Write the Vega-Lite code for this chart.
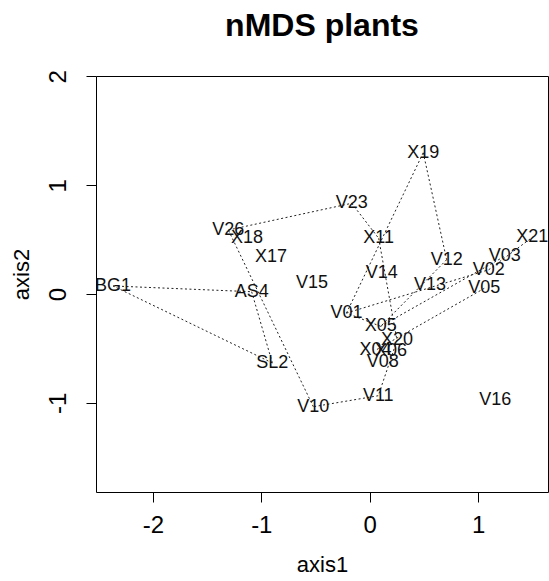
{
  "$schema": "https://vega.github.io/schema/vega-lite/v6.json",
  "autosize": {"type": "none"},
  "width": 452,
  "height": 416,
  "padding": {"left": 96, "top": 76, "right": 1, "bottom": 89},
  "background": "white",
  "title": {
    "text": "nMDS plants",
    "font": "Liberation Sans",
    "fontSize": 32,
    "fontWeight": "bold",
    "color": "#000",
    "anchor": "middle",
    "frame": "group",
    "offset": 27
  },
  "config": {
    "font": "Liberation Sans",
    "view": {"stroke": "#000", "strokeWidth": 1},
    "axis": {
      "domain": false,
      "grid": false,
      "ticks": true,
      "tickColor": "#000",
      "tickSize": 10,
      "tickWidth": 1,
      "labelFont": "Liberation Sans",
      "labelFontSize": 24,
      "labelColor": "#000",
      "labelExpr": "'' + datum.value",
      "titleFont": "Liberation Sans",
      "titleFontSize": 22,
      "titleFontWeight": "normal",
      "titleColor": "#000"
    }
  },
  "datasets": {
    "sites": [
      {"site": "V26", "axis1": -1.304, "axis2": 0.588},
      {"site": "X18", "axis1": -1.132, "axis2": 0.512},
      {"site": "X17", "axis1": -0.911, "axis2": 0.343},
      {"site": "BG1", "axis1": -2.368, "axis2": 0.074},
      {"site": "AS4", "axis1": -1.089, "axis2": 0.021},
      {"site": "SL2", "axis1": -0.898, "axis2": -0.634},
      {"site": "V10", "axis1": -0.520, "axis2": -1.036},
      {"site": "V15", "axis1": -0.532, "axis2": 0.104},
      {"site": "V23", "axis1": -0.166, "axis2": 0.834},
      {"site": "X19", "axis1": 0.494, "axis2": 1.299},
      {"site": "X11", "axis1": 0.083, "axis2": 0.512},
      {"site": "V14", "axis1": 0.111, "axis2": 0.190},
      {"site": "V12", "axis1": 0.710, "axis2": 0.315},
      {"site": "V13", "axis1": 0.556, "axis2": 0.083},
      {"site": "V01", "axis1": -0.214, "axis2": -0.175},
      {"site": "X21", "axis1": 1.500, "axis2": 0.521},
      {"site": "V03", "axis1": 1.245, "axis2": 0.347},
      {"site": "V02", "axis1": 1.098, "axis2": 0.223},
      {"site": "V05", "axis1": 1.057, "axis2": 0.052},
      {"site": "X05", "axis1": 0.101, "axis2": -0.297},
      {"site": "X20", "axis1": 0.252, "axis2": -0.426},
      {"site": "X04", "axis1": 0.054, "axis2": -0.517},
      {"site": "X06", "axis1": 0.196, "axis2": -0.528},
      {"site": "V08", "axis1": 0.120, "axis2": -0.625},
      {"site": "V11", "axis1": 0.079, "axis2": -0.935},
      {"site": "V16", "axis1": 1.159, "axis2": -0.977}
    ],
    "hullEdges": [
      {"from": "BG1", "to": "AS4"},
      {"from": "AS4", "to": "SL2"},
      {"from": "SL2", "to": "BG1"},
      {"from": "V26", "to": "V23"},
      {"from": "V23", "to": "X11"},
      {"from": "X11", "to": "X20"},
      {"from": "X20", "to": "V11"},
      {"from": "V11", "to": "V10"},
      {"from": "V10", "to": "V26"},
      {"from": "X19", "to": "V12"},
      {"from": "V12", "to": "X05"},
      {"from": "X05", "to": "V01"},
      {"from": "V01", "to": "X19"},
      {"from": "V01", "to": "V02"},
      {"from": "V02", "to": "X21"},
      {"from": "X05", "to": "V03"},
      {"from": "V05", "to": "X04"}
    ]
  },
  "layer": [
    {
      "data": {"name": "hullEdges"},
      "transform": [
        {"lookup": "from", "from": {"data": {"name": "sites"}, "key": "site", "fields": ["axis1", "axis2"]}, "as": ["xa", "ya"]},
        {"lookup": "to", "from": {"data": {"name": "sites"}, "key": "site", "fields": ["axis1", "axis2"]}, "as": ["xb", "yb"]}
      ],
      "mark": {"type": "rule", "color": "#222", "strokeWidth": 1, "strokeDash": [2, 2.5]},
      "encoding": {
        "x": {"field": "xa", "type": "quantitative", "scale": {"domain": [-2.525, 1.645], "nice": false, "zero": false}},
        "y": {"field": "ya", "type": "quantitative", "scale": {"domain": [-1.82, 2.004], "nice": false, "zero": false}},
        "x2": {"field": "xb"},
        "y2": {"field": "yb"}
      }
    },
    {
      "data": {"name": "sites"},
      "mark": {"type": "text", "font": "Liberation Sans", "fontSize": 18, "color": "#111", "align": "center", "baseline": "middle"},
      "encoding": {
        "x": {
          "field": "axis1", "type": "quantitative",
          "scale": {"domain": [-2.525, 1.645], "nice": false, "zero": false},
          "axis": {"values": [-2, -1, 0, 1], "title": "axis1", "labelPadding": 11, "titlePadding": 17}
        },
        "y": {
          "field": "axis2", "type": "quantitative",
          "scale": {"domain": [-1.82, 2.004], "nice": false, "zero": false},
          "axis": {"values": [-1, 0, 1, 2], "title": "axis2", "labelAngle": 270, "labelAlign": "center", "labelBaseline": "bottom", "labelPadding": 16, "titlePadding": 13, "titleY": 198}
        },
        "text": {"field": "site"}
      }
    }
  ]
}
